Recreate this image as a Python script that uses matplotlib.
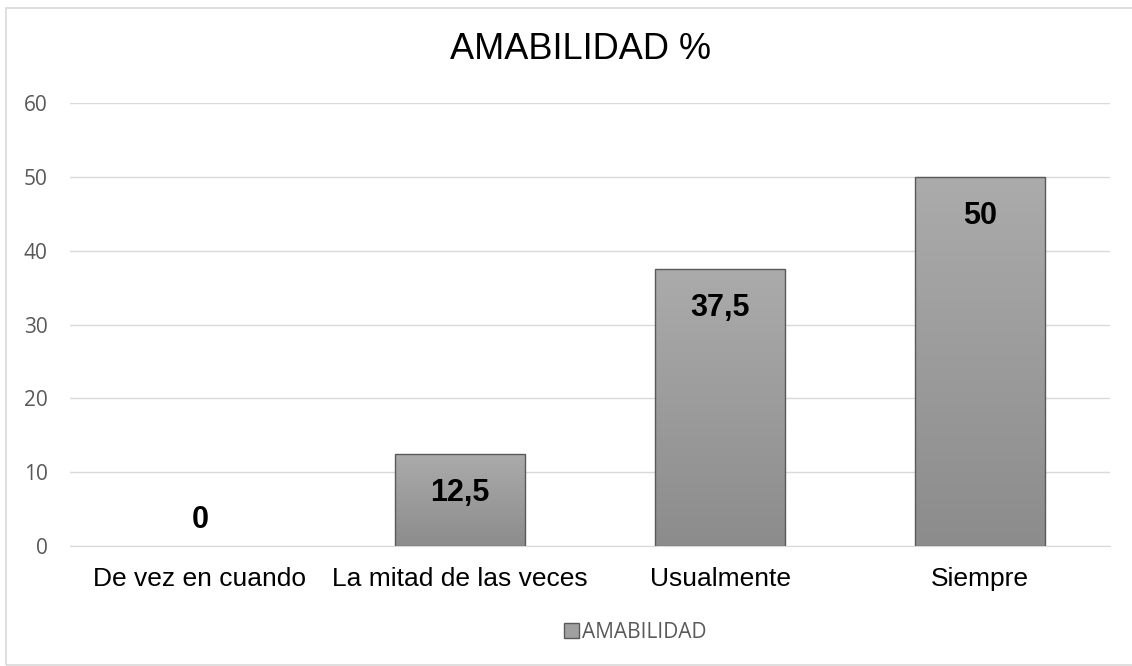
import numpy as np
import matplotlib
matplotlib.use("Agg")
import matplotlib.pyplot as plt
from matplotlib.patches import Rectangle
from matplotlib.colors import LinearSegmentedColormap

# ---- data ----
categories = ["De vez en cuando", "La mitad de las veces", "Usualmente", "Siempre"]
values = [0, 12.5, 37.5, 50]
value_labels = ["0", "12,5", "37,5", "50"]
series_name = "AMABILIDAD"
title = "AMABILIDAD %"
yticks = [0, 10, 20, 30, 40, 50, 60]

fig = plt.figure(figsize=(11.32, 6.66), dpi=100)
ax = fig.add_axes([0.0618, 0.180, 0.9188, 0.665])

# outer chart border
fig.patches.append(Rectangle((6 / 1132, 1 / 666), 1130 / 1132, 657 / 666,
                             transform=fig.transFigure, fill=False,
                             edgecolor="#d9d9d9", linewidth=1.2))

x = np.arange(len(categories))
width = 0.5
grad = LinearSegmentedColormap.from_list("g", ["#8c8c8c", "#ababab"])

for xi, v in zip(x, values):
    if v <= 0:
        continue
    im = ax.imshow(np.linspace(0, 1, 100).reshape(-1, 1), cmap=grad, origin="lower",
                   extent=[xi - width / 2, xi + width / 2, 0, v], aspect="auto", zorder=2)
    rect = Rectangle((xi - width / 2, 0), width, v, fill=False,
                     edgecolor="#595959", linewidth=1.0, zorder=3)
    ax.add_patch(rect)
    im.set_clip_path(rect)

# data labels
for xi, v, lab in zip(x, values, value_labels):
    off = -28 if v > 0 else 19
    ax.annotate(lab, (xi, v), xytext=(0, off), textcoords="offset points",
                ha="center", va="center", fontsize=22, fontweight="bold",
                family="Liberation Sans", color="black", zorder=4)

ax.set_xlim(-0.5, len(categories) - 0.5)
ax.set_ylim(0, 60)
ax.set_yticks(yticks)
ax.set_yticklabels([str(t) for t in yticks], family="Open Sans", fontsize=15, color="#595959")
ax.set_xticks(x)
ax.set_xticklabels(categories, family="Liberation Sans", fontsize=19, color="black")
ax.tick_params(axis="both", length=0)
ax.tick_params(axis="y", pad=16)
ax.tick_params(axis="x", pad=15)
ax.yaxis.grid(True, color="#d9d9d9", linewidth=1.0, zorder=0)
ax.set_axisbelow(True)
for s in ["top", "right", "left"]:
    ax.spines[s].set_visible(False)
ax.spines["bottom"].set_color("#d9d9d9")

fig.text(0.513, 0.925, title, ha="center", va="center", fontsize=26,
         family="Liberation Sans", color="black")

# legend
handle = Rectangle((0, 0), 1, 1, facecolor="#a0a0a0", edgecolor="#595959", linewidth=1.0)
leg = fig.legend([handle], [series_name], loc="center", bbox_to_anchor=(0.561, 0.051),
                 frameon=False, handlelength=0.7, handleheight=0.7, handletextpad=0.15,
                 prop={"family": "Open Sans", "size": 15})
for t in leg.get_texts():
    t.set_color("#595959")

fig.savefig("out.png", dpi=100)
